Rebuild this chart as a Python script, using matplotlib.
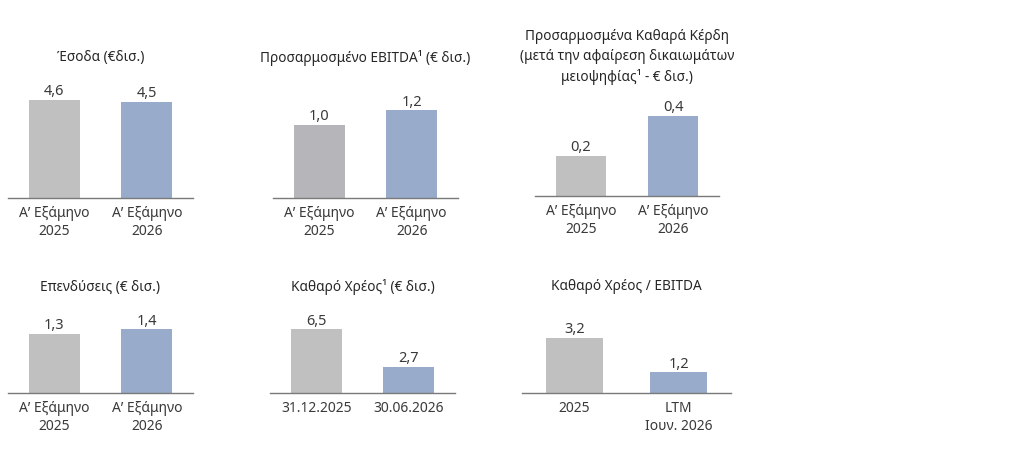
import numpy as np
import matplotlib
matplotlib.use("Agg")
import matplotlib.pyplot as plt

plt.rcParams['font.family'] = ['Noto Sans', 'DejaVu Sans']

# data
titles = [
    "Έσοδα (€δισ.)",
    "Προσαρμοσμένο EBITDA¹ (€ δισ.)",
    "Προσαρμοσμένα Καθαρά Κέρδη\n(μετά την αφαίρεση δικαιωμάτων\nμειοψηφίας¹ - € δισ.)",
    "Επενδύσεις (€ δισ.)",
    "Καθαρό Χρέος¹ (€ δισ.)",
    "Καθαρό Χρέος / EBITDA",
]
half_labels = ["Α’ Εξάμηνο\n2025", "Α’ Εξάμηνο\n2026"]
debt_labels = ["31.12.2025", "30.06.2026"]
ratio_labels = ["2025", "LTM\nΙουν. 2026"]
revenue = [4.6, 4.5]
ebitda = [1.0, 1.2]
net_profit = [0.2, 0.4]
capex = [1.3, 1.4]
net_debt = [6.5, 2.7]
debt_ratio = [3.2, 1.2]

panels = [
    (titles[0], half_labels, revenue),
    (titles[1], half_labels, ebitda),
    (titles[2], half_labels, net_profit),
    (titles[3], half_labels, capex),
    (titles[4], debt_labels, net_debt),
    (titles[5], ratio_labels, debt_ratio),
]

# layout in pixels: left, right, baseline y (from top), px per unit
layout = [
    (8, 193, 198, 21.3),
    (273, 458, 198, 73.0),
    (535, 719, 196, 200.0),
    (8, 193, 393, 45.5),
    (270, 455, 393, 9.8),
    (522, 731, 393, 17.2),
]
title_y = [58, 58, 57, 287, 287, 287]
gray_cols = ["#c0c0c0", "#b6b6ba", "#c0c0c0", "#c0c0c0", "#c0c0c0", "#c0c0c0"]
blue = "#98abca"
text_col = "#3a3a3a"

W, H = 1024, 449
fig = plt.figure(figsize=(W / 100, H / 100), dpi=100)
fig.patch.set_facecolor("white")

ax_h = 120
for i, (title, labels, vals) in enumerate(panels):
    left, right, base, ppu = layout[i]
    ax = fig.add_axes([left / W, (H - base) / H, (right - left) / W, ax_h / H])
    x = np.arange(len(vals))
    bars = ax.bar(x, vals, width=0.55, color=[gray_cols[i], blue])
    ax.set_xlim(-0.5, 1.5)
    ax.set_ylim(0, ax_h / ppu)
    for b, v in zip(bars, vals):
        ax.annotate(f"{v:.1f}".replace(".", ","), (b.get_x() + b.get_width() / 2, v),
                    xytext=(0, 0.5), textcoords="offset points", ha="center", va="bottom",
                    fontsize=10.5, color=text_col)
    ax.set_xticks(x)
    ax.set_xticklabels(labels, fontsize=10, color=text_col, linespacing=1.3)
    ax.tick_params(axis="x", length=0, pad=5.5)
    ax.set_yticks([])
    for s in ["top", "left", "right"]:
        ax.spines[s].set_visible(False)
    ax.spines["bottom"].set_color("#7a7a7a")
    ax.spines["bottom"].set_linewidth(1.0)
    ax.patch.set_alpha(0)
    fig.text((left + right) / 2 / W, (H - title_y[i]) / H, title, ha="center", va="center",
             fontsize=9.8, color="#262626", linespacing=1.4)

fig.savefig("out.png", dpi=100, facecolor="white")
